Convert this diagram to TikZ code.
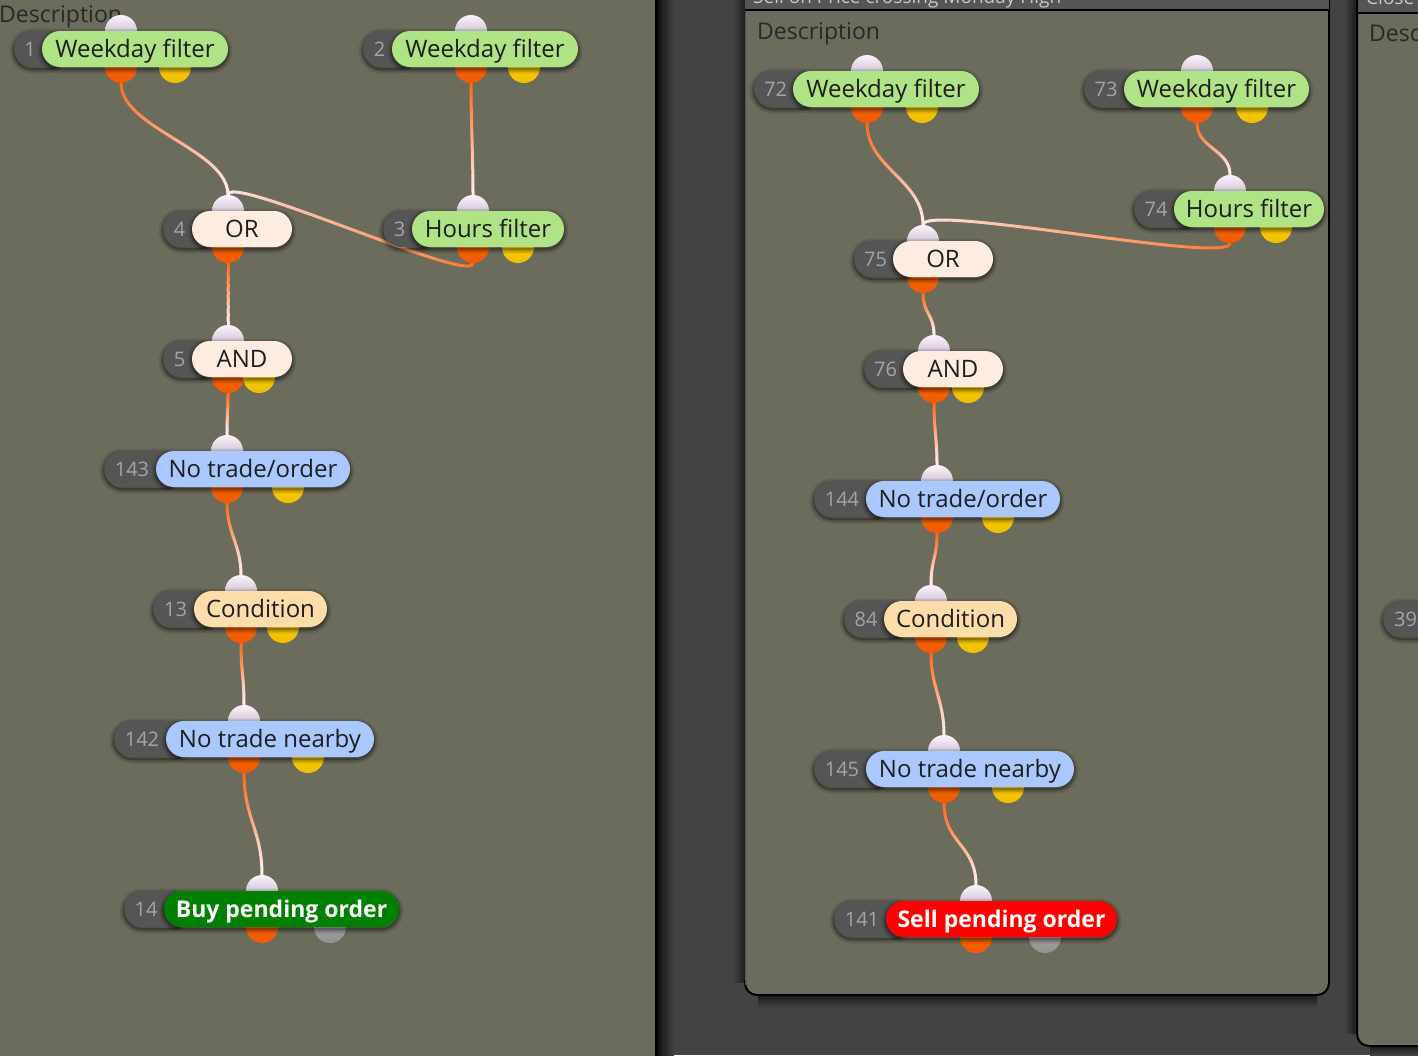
\documentclass[tikz,border=0pt]{standalone}
\usepackage{fontspec}
\setmainfont{Open Sans}
\definecolor{bgdark}{RGB}{67,67,67}
\definecolor{panel}{RGB}{107,108,92}
\definecolor{headgray}{RGB}{85,85,85}
\definecolor{titlegray}{RGB}{200,200,200}
\definecolor{desctext}{RGB}{40,40,40}
\definecolor{badgegray}{RGB}{85,85,85}
\definecolor{numgray}{RGB}{165,165,165}
\definecolor{labeltext}{RGB}{30,30,30}
\definecolor{filtgreen}{RGB}{176,226,134}
\definecolor{tradeblue}{RGB}{170,200,255}
\definecolor{condpeach}{RGB}{255,221,170}
\definecolor{logicpale}{RGB}{255,236,224}
\definecolor{buygreen}{RGB}{0,128,0}
\definecolor{sellred}{RGB}{255,0,0}
\definecolor{portinA}{RGB}{252,242,252}
\definecolor{portinB}{RGB}{175,160,185}
\definecolor{portoutA}{RGB}{255,110,10}
\definecolor{portoutB}{RGB}{240,90,0}
\definecolor{portyA}{RGB}{255,214,0}
\definecolor{portyB}{RGB}{240,190,0}
\definecolor{portgA}{RGB}{175,175,175}
\definecolor{portgB}{RGB}{145,145,145}
\definecolor{wireout}{RGB}{255,105,25}
\definecolor{wirein}{RGB}{255,236,242}
\pgfdeclarelayer{back}
\pgfdeclarelayer{wires}
\pgfsetlayers{back,wires,main}
\tikzset{
  softshadow/.style={
    preaction={fill=none, draw=black, draw opacity=0.10, line width=9pt, transform canvas={yshift=-2pt}},
    preaction={fill=none, draw=black, draw opacity=0.16, line width=5pt, transform canvas={yshift=-2pt}},
    preaction={fill=none, draw=black, draw opacity=0.22, line width=2pt, transform canvas={yshift=-2pt}}},
  badge/.style={fill=badgegray, rounded corners=18pt, minimum height=36pt, inner sep=0pt, anchor=west, softshadow},
  numlbl/.style={text=numgray, font=\fontsize{20}{24}\selectfont, inner sep=0pt, text height=14.5pt, text depth=0pt},
  pill/.style={rounded corners=18pt, minimum height=36pt, inner sep=0pt, text=labeltext, font=\fontsize{24}{28}\selectfont, text height=17pt, text depth=0pt, softshadow},
  filt/.style={fill=filtgreen},
  trade/.style={fill=tradeblue},
  cond/.style={fill=condpeach},
  logic/.style={fill=logicpale},
  buy/.style={fill=buygreen, text=white, font=\fontsize{23}{27}\selectfont\bfseries},
  sell/.style={fill=sellred, text=white, font=\fontsize{23}{27}\selectfont\bfseries},
  port/.style={circle, minimum size=32pt, inner sep=0pt},
  inport/.style={port, top color=portinA, bottom color=portinB},
  outport/.style={port, top color=portoutA, bottom color=portoutB},
  yport/.style={port, top color=portyA, bottom color=portyB},
  gport/.style={port, top color=portgA, bottom color=portgB},
  desc/.style={text=desctext, font=\fontsize{23}{27}\selectfont, inner sep=0pt, anchor=base west},
  ptitle/.style={text=titlegray, font=\fontsize{19}{23}\selectfont, inner sep=0pt, anchor=base west}
}
% node: name, badge left, pill left, pill right, centre y, number, style, text
\newcommand\fnode[8]{%
  \node[badge, minimum width={#3-#2+24}] (#1b) at (#2,#5) {};
  \node[numlbl] (#1n) at ({(#2+#3)/2+2},#5) {#6};
  \node[pill,#7, minimum width={#4-#3}] (#1) at ({(#3+#4)/2},#5) {#8};
}
% ports: name, x, centre y, second x, second style
\newcommand\fports[5]{%
  \node[inport] (#1i) at (#2,#3-18) {};
  \node[outport] (#1o) at (#2,#3+18) {};
  \node[#5] (#1y) at (#4,#3+18) {};
}
\newcommand\fportsb[3]{%
  \node[inport] (#1i) at (#2,#3-18) {};
  \node[outport] (#1o) at (#2,#3+18) {};
}
% gradient wire from port #1 (south) to port #2 (north), control distance #3
\newcommand\gconn[3]{%
  \foreach \k in {0,...,23}{%
    \pgfmathsetmacro\ta{\k/24}%
    \pgfmathsetmacro\tb{(\k+1)/24}%
    \pgfmathtruncatemacro\mv{100-(\k+0.5)*100/24}%
    \colorlet{segc}{wireout!\mv!wirein}%
    \begin{pgfscope}
    \pgfsetstrokecolor{segc}%
    \pgfsetlinewidth{3pt}%
    \pgfsetroundcap
    \pgfpathcurvebetweentime{\ta}{\tb}%
      {\pgfpointanchor{#1}{south}}%
      {\pgfpointadd{\pgfpointanchor{#1}{south}}{\pgfpoint{0pt}{-#3pt}}}%
      {\pgfpointadd{\pgfpointanchor{#2}{north}}{\pgfpoint{0pt}{#3pt}}}%
      {\pgfpointanchor{#2}{north}}%
    \pgfusepath{stroke}%
    \end{pgfscope}
  }%
}
\begin{document}
\begin{tikzpicture}[x=1pt,y=-1pt]
\useasboundingbox (0,0) rectangle (1418,1055);
\begin{pgfonlayer}{back}
\begin{scope}
\clip (0,0) rectangle (1418,1055);
\fill[bgdark] (0,0) rectangle (1418,1055);
% left panel
\fill[panel] (-10,-10) rectangle (655,1065);
\shade[left color=black!75!bgdark, right color=bgdark] (657,-10) rectangle (674,1065);
\fill[black] (655,-10) rectangle (658,1065);
\node[desc] (descL) at (-1,22.5) {Description};
% middle panel
\shade[left color=bgdark, right color=black!60!bgdark] (733,-10) rectangle (746,982);
\shade[top color=black!60!bgdark, bottom color=bgdark] (758,995) rectangle (1317,1008);
\path[fill=panel, rounded corners=12pt]
  (745,-30) -- (745,995) -- (1329,995) -- (1329,-30) -- cycle;
\draw[black, line width=2pt, rounded corners=12pt] (1329,-30) -- (1329,995) -- (745,995) -- (745,980);
\draw[headgray, line width=1.5pt] (745.5,-30) -- (745.5,985);
\fill[headgray] (745,-10) rectangle (1329,10);
\draw[black, line width=2pt] (745,10) -- (1329,10);
\node[ptitle] (titleM) at (753,3.5) {Sell on Price crossing Monday High};
\node[desc] (descM) at (757,39.5) {Description};
% right panel
\shade[left color=bgdark, right color=black!60!bgdark] (1344,-10) rectangle (1357,1033);
\shade[top color=black!60!bgdark, bottom color=bgdark] (1370,1046) rectangle (1430,1055);
\path[fill=panel, rounded corners=12pt]
  (1357,-30) -- (1357,1046) -- (1450,1046) -- (1450,-30) -- cycle;
\draw[black, line width=2pt, rounded corners=12pt] (1357,-30) -- (1357,1046) -- (1450,1046);
\fill[headgray] (1358,-10) rectangle (1450,12);
\draw[black, line width=2pt] (1357,13) -- (1450,13);
\node[ptitle] (titleR) at (1366,4.5) {Close};
\node[desc] (descR) at (1369,41.5) {Description};
\end{scope}
\end{pgfonlayer}

% ---------- ports ----------
\fports{n1}{121}{49}{175}{yport}
\fports{n2}{471}{49}{524}{yport}
\fportsb{n4}{228}{229}
\fports{n3}{473}{229}{518}{yport}
\fports{n5}{228}{359}{259}{yport}
\fports{n143}{227}{469}{288}{yport}
\fports{n13}{241}{609}{283}{yport}
\fports{n142}{244}{739}{308}{yport}
\fports{n14}{262}{909}{330}{gport}

\fports{n72}{867}{89}{922}{yport}
\fports{n73}{1197}{89}{1252}{yport}
\fports{n74}{1230}{209}{1276}{yport}
\fportsb{n75}{923}{259}
\fports{n76}{934}{369}{968}{yport}
\fports{n144}{937}{499}{998}{yport}
\fports{n84}{931}{619}{973}{yport}
\fports{n145}{944}{769}{1008}{yport}
\fports{n141}{976}{919}{1045}{gport}

% ---------- nodes ----------
\fnode{n1}{14}{42}{228}{49}{1}{filt}{Weekday filter}
\fnode{n2}{363}{392}{578}{49}{2}{filt}{Weekday filter}
\fnode{n4}{163}{192}{292}{229}{4}{logic}{OR}
\fnode{n3}{383}{412}{564}{229}{3}{filt}{Hours filter}
\fnode{n5}{163}{192}{292}{359}{5}{logic}{AND}
\fnode{n143}{104}{156}{350}{469}{143}{trade}{No trade/order}
\fnode{n13}{153}{194}{327}{609}{13}{cond}{Condition}
\fnode{n142}{114}{166}{374}{739}{142}{trade}{No trade nearby}
\fnode{n14}{124}{164}{399}{909}{14}{buy}{Buy pending order}

\fnode{n72}{754}{793}{979}{89}{72}{filt}{Weekday filter}
\fnode{n73}{1084}{1124}{1309}{89}{73}{filt}{Weekday filter}
\fnode{n74}{1134}{1174}{1324}{209}{74}{filt}{Hours filter}
\fnode{n75}{854}{893}{993}{259}{75}{logic}{OR}
\fnode{n76}{864}{903}{1003}{369}{76}{logic}{AND}
\fnode{n144}{814}{866}{1060}{499}{144}{trade}{No trade/order}
\fnode{n84}{844}{884}{1017}{619}{84}{cond}{Condition}
\fnode{n145}{814}{866}{1074}{769}{145}{trade}{No trade nearby}
\fnode{n141}{834}{886}{1117}{919}{141}{sell}{Sell pending order}

\begin{scope}
\clip (0,0) rectangle (1418,1055);
\node[badge, minimum width=80] (n39b) at (1383,619) {};
\node[numlbl, anchor=west] (n39n) at (1394,619) {39};
\end{scope}

% ---------- wires ----------
\begin{pgfonlayer}{wires}
\gconn{n1o}{n4i}{45}
\gconn{n2o}{n3i}{40}
\gconn{n3o}{n4i}{22}
\gconn{n4o}{n5i}{25}
\gconn{n5o}{n143i}{20}
\gconn{n143o}{n13i}{30}
\gconn{n13o}{n142i}{30}
\gconn{n142o}{n14i}{45}
\gconn{n72o}{n75i}{45}
\gconn{n73o}{n74i}{25}
\gconn{n74o}{n75i}{22}
\gconn{n75o}{n76i}{20}
\gconn{n76o}{n144i}{25}
\gconn{n144o}{n84i}{25}
\gconn{n84o}{n145i}{35}
\gconn{n145o}{n141i}{40}
\end{pgfonlayer}
\end{tikzpicture}
\end{document}
